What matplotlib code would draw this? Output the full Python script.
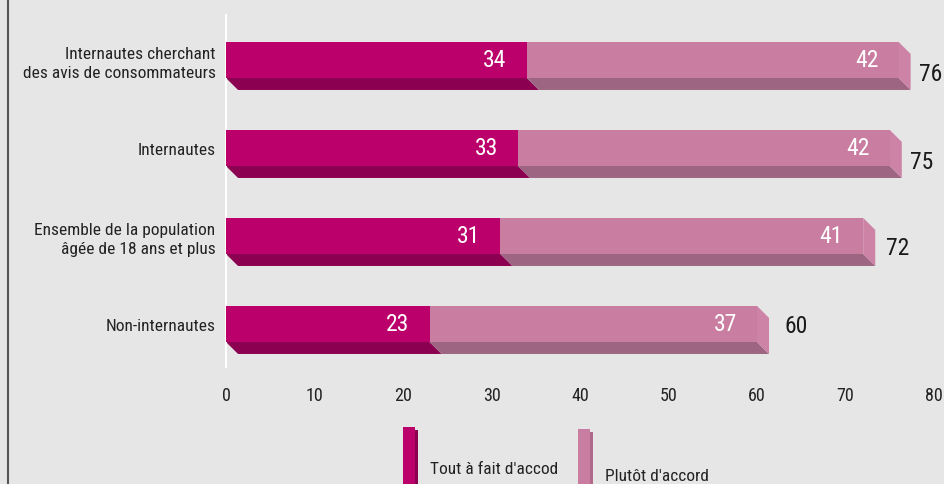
import matplotlib.pyplot as plt
from matplotlib.patches import Polygon, Rectangle
from matplotlib.lines import Line2D

plt.rcParams['font.family'] = ['Roboto Condensed', 'DejaVu Sans']

categories = ["Internautes cherchant\ndes avis de consommateurs",
              "Internautes",
              "Ensemble de la population\nâgée de 18 ans et plus",
              "Non-internautes"]
tout_a_fait = [34, 33, 31, 23]
plutot = [42, 42, 41, 37]
totals = [76, 75, 72, 60]
series_names = ["Tout à fait d'accod", "Plutôt d'accord"]

# small nudges of the total labels, as placed in the original
tot_dx = [1.0, 0.9, 1.2, 1.8]
tot_dy = [0.15, 0.15, 0.13, 0.02]

bg = '#e6e6e6'
c_dark = '#bb006c'
c_dark_bot = '#8c0052'
c_pink = '#c97ea1'
c_pink_side = '#cc83a5'
c_pink_bot = '#9d6581'

W, H = 945, 485
fig = plt.figure(figsize=(W / 100, H / 100), dpi=100, facecolor=bg)
ax = fig.add_axes([226 / W, 1 - 368 / H, (934 - 226) / W, 352 / H])
ax.set_facecolor(bg)

bh = 0.41          # bar face height
dx, dy = 1.36, 0.136  # 3D depth
ys = list(range(len(categories)))

ax.barh(ys, tout_a_fait, height=bh, color=c_dark, zorder=3)
ax.barh(ys, plutot, left=tout_a_fait, height=bh, color=c_pink, zorder=3)

for y, a, b, t, ox, oy in zip(ys, tout_a_fait, plutot, totals, tot_dx, tot_dy):
    yb = y + bh / 2
    yt = y - bh / 2
    ax.add_patch(Polygon([(0, yb), (dx, yb + dy), (a + dx, yb + dy), (a, yb)],
                         closed=True, facecolor=c_dark_bot, edgecolor='none', zorder=2))
    ax.add_patch(Polygon([(a, yb), (a + dx, yb + dy), (t + dx, yb + dy), (t, yb)],
                         closed=True, facecolor=c_pink_bot, edgecolor='none', zorder=2))
    ax.add_patch(Polygon([(t, yt), (t + dx, yt + dy), (t + dx, yb + dy), (t, yb)],
                         closed=True, facecolor=c_pink_side, edgecolor='none', zorder=2))
    ax.text(a - 2.3, y, str(a), color='white', fontsize=17, ha='right', va='center', zorder=4)
    ax.text(t - 2.3, y, str(b), color='white', fontsize=17, ha='right', va='center', zorder=4)
    ax.text(t + dx + ox, y + oy, str(t), color='#1a1a1a', fontsize=17,
            ha='left', va='center', clip_on=False, zorder=4)

ax.set_xlim(0, 80)
ax.set_ylim(3.489, -0.511)
ax.set_xticks(range(0, 81, 10))
ax.set_yticks(ys)
ax.set_yticklabels(categories, fontsize=12.5, color='#222222', linespacing=1.3)
ax.tick_params(axis='x', length=0, pad=14, labelsize=13, labelcolor='#222222')
ax.tick_params(axis='y', length=0, pad=7.5)
for s in ['top', 'right', 'bottom']:
    ax.spines[s].set_visible(False)
ax.spines['left'].set_color('white')
ax.spines['left'].set_linewidth(1.5)

# left frame line
fig.add_artist(Line2D([8 / W, 8 / W], [0, 1], color='#555555', lw=1.5))

# legend
leg = [(403, c_dark, '#8c0052', 428, 430, 470), (578, c_pink, '#b06a8c', 430, 605, 477)]
for (x0, fc, sc, ytop, tx, ty), name in zip(leg, series_names):
    fig.add_artist(Rectangle((x0 / W, 0), 12 / W, 1 - ytop / H, facecolor=fc, edgecolor='none'))
    fig.add_artist(Rectangle(((x0 + 12) / W, 0), 3 / W, 1 - (ytop + 3) / H, facecolor=sc, edgecolor='none'))
    fig.text(tx / W, 1 - ty / H, name, fontsize=12.5, color='#222222', ha='left', va='center')

fig.savefig('out.png', dpi=100, facecolor=bg)
